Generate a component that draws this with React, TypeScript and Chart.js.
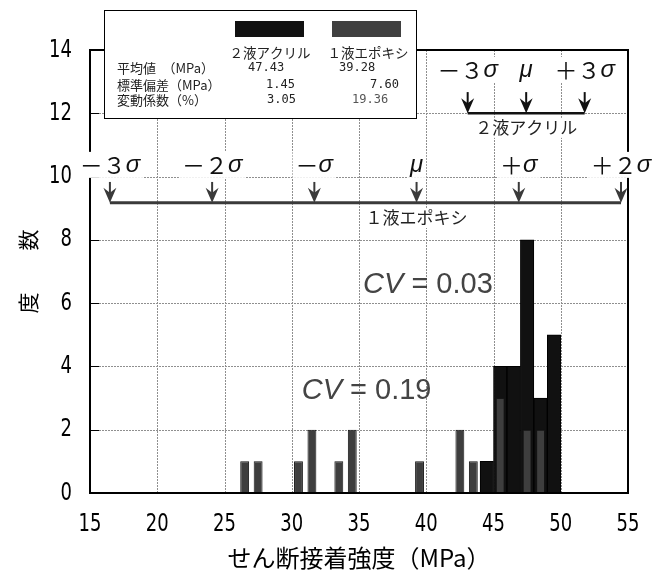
import React, { useEffect, useRef } from "react";
import { Chart, registerables } from "chart.js";

Chart.register(...registerables);

// ---- data ----
const acrylicBins = [44.5, 45.5, 46.5, 47.5, 48.5, 49.5];
const acrylicCounts = [1, 4, 4, 8, 3, 5];
const epoxyBins = [26.5, 27.5, 30.5, 31.5, 33.5, 34.5, 39.5, 42.5, 43.5, 45.5, 47.5, 48.5];
const epoxyCounts = [1, 1, 1, 2, 1, 2, 1, 2, 1, 3, 2, 2];

const seriesNames = ["２液アクリル", "１液エポキシ"];
const meanValues = ["47.43", "39.28"];
const sdValues = ["1.45", "7.60"];
const cvPercentValues = ["3.05", "19.36"];
const cvRatioLabels = ["0.03", "0.19"];
const statRowLabels = ["平均値　（MPa）", "標準偏差（MPa）", "変動係数（%）"];

const acrylicMean = 47.43;
const acrylicSd = 1.45;
const epoxyMean = 39.28;
const epoxySd = 7.6;
const acrylicSigmaMarks = [-3, 0, 3];
const epoxySigmaMarks = [-3, -2, -1, 0, 1, 2];

const xMin = 15, xMax = 55, xStep = 5;
const yMin = 0, yMax = 14, yStep = 2;

const xTitle = "せん断接着強度（MPa）";
const yTitle = "度　　数";

// ---- layout / style (not data) ----
const CJK = '"Noto Sans CJK JP", "Noto Sans CJK SC", sans-serif';
const NARROW = '"DejaVu Sans Condensed", "DejaVu Sans", sans-serif';
const LATIN = '"Liberation Sans", Arial, sans-serif';
const MONO = '"DejaVu Sans Mono", monospace';

const acrylicLevels = { label: 13.37, arrowTop: 12.67, line: 12.0, name: 11.54 };
const epoxyLevels = { label: 10.37, arrowTop: 9.83, line: 9.17, name: 8.69 };
const cvAnchors = [
  { x: 35.3, y: 6.56 },
  { x: 30.74, y: 3.22 },
];

const fw: Record<string, string> = { "1": "１", "2": "２", "3": "３" };

function sigmaParts(k: number) {
  const ital = `italic 24px ${LATIN}`;
  const norm = `23px ${CJK}`;
  if (k === 0) return [{ t: "μ", f: ital }];
  const sign = k < 0 ? "－" : "＋";
  const mag = Math.abs(k) === 1 ? "" : fw[String(Math.abs(k))];
  return [
    { t: sign + mag, f: norm },
    { t: "σ", f: ital },
  ];
}

function drawRich(ctx: CanvasRenderingContext2D, parts: { t: string; f: string }[], cx: number, cy: number, color: string, bgH: number) {
  let w = 0;
  const ws = parts.map((p) => {
    ctx.font = p.f;
    const m = ctx.measureText(p.t).width;
    w += m;
    return m;
  });
  let sx = cx - w / 2;
  if (bgH > 0) {
    ctx.fillStyle = "#fff";
    ctx.fillRect(sx - 3, cy - bgH / 2, w + 6, bgH);
  }
  ctx.textBaseline = "middle";
  ctx.textAlign = "left";
  ctx.fillStyle = color;
  parts.forEach((p, i) => {
    ctx.font = p.f;
    ctx.fillText(p.t, sx, cy);
    sx += ws[i];
  });
}

function drawDist(
  chart: any,
  mean: number,
  sd: number,
  ks: number[],
  lv: { label: number; arrowTop: number; line: number; name: number },
  color: string,
  lineW: number,
  name: string
) {
  const { ctx, scales } = chart;
  const x = scales.x, y = scales.y;
  const xs = ks.map((k) => x.getPixelForValue(mean + k * sd));
  const yl = y.getPixelForValue(lv.line);
  const yt = y.getPixelForValue(lv.arrowTop);
  ctx.save();
  ctx.strokeStyle = color;
  ctx.fillStyle = color;
  ctx.lineWidth = lineW;
  ctx.beginPath();
  ctx.moveTo(xs[0], yl);
  ctx.lineTo(xs[xs.length - 1], yl);
  ctx.stroke();
  xs.forEach((px) => {
    ctx.lineWidth = 2;
    ctx.beginPath();
    ctx.moveTo(px, yt);
    ctx.lineTo(px, yl - 8);
    ctx.stroke();
    ctx.beginPath();
    ctx.moveTo(px, yl);
    ctx.lineTo(px - 6.5, yl - 15);
    ctx.lineTo(px, yl - 10);
    ctx.lineTo(px + 6.5, yl - 15);
    ctx.closePath();
    ctx.fill();
  });
  const ly = y.getPixelForValue(lv.label);
  ks.forEach((k, i) => drawRich(ctx, sigmaParts(k), xs[i], ly, "#111", 26));
  const nx = x.getPixelForValue(mean);
  const ny = y.getPixelForValue(lv.name);
  drawRich(ctx, [{ t: name, f: `17px ${CJK}` }], nx, ny, "#222", 20);
  ctx.restore();
}

const gridAndTicks = {
  id: "gridAndTicks",
  beforeDatasetsDraw(chart: any) {
    const { ctx, chartArea: ca, scales } = chart;
    const x = scales.x, y = scales.y;
    ctx.save();
    ctx.strokeStyle = "#8f8f8f";
    ctx.lineWidth = 1;
    ctx.setLineDash([2, 1]);
    ctx.beginPath();
    x.ticks.forEach((t: any) => {
      const px = Math.round(x.getPixelForValue(t.value)) + 0.5;
      ctx.moveTo(px, ca.top);
      ctx.lineTo(px, ca.bottom);
    });
    y.ticks.forEach((t: any) => {
      const py = Math.round(y.getPixelForValue(t.value)) + 0.5;
      ctx.moveTo(ca.left, py);
      ctx.lineTo(ca.right, py);
    });
    ctx.stroke();
    ctx.setLineDash([]);
    ctx.strokeStyle = "#000";
    ctx.lineWidth = 2;
    ctx.beginPath();
    ctx.moveTo(ca.left, ca.top);
    ctx.lineTo(ca.left, ca.bottom);
    ctx.lineTo(ca.right, ca.bottom);
    ctx.stroke();
    // tick labels (condensed look)
    ctx.fillStyle = "#000";
    ctx.font = `25px ${NARROW}`;
    ctx.textBaseline = "middle";
    x.ticks.forEach((t: any) => {
      const px = x.getPixelForValue(t.value);
      ctx.save();
      ctx.translate(px, ca.bottom + 31);
      ctx.scale(0.8, 1);
      ctx.textAlign = "center";
      ctx.fillText(String(t.value), 0, 0);
      ctx.restore();
    });
    y.ticks.forEach((t: any) => {
      const py = y.getPixelForValue(t.value);
      ctx.save();
      ctx.translate(ca.left - 18, py);
      ctx.scale(0.8, 1);
      ctx.textAlign = "right";
      ctx.fillText(String(t.value), 0, 0);
      ctx.restore();
    });
    ctx.restore();
  },
};

const overlay = {
  id: "overlay",
  afterDraw(chart: any) {
    const { ctx, chartArea: ca, scales } = chart;
    const x = scales.x, y = scales.y;
    ctx.save();
    ctx.strokeStyle = "#000";
    ctx.lineWidth = 2;
    ctx.beginPath();
    ctx.moveTo(ca.left, ca.bottom);
    ctx.lineTo(ca.left, ca.top);
    ctx.lineTo(ca.right, ca.top);
    ctx.lineTo(ca.right, ca.bottom);
    ctx.lineTo(ca.left, ca.bottom);
    ctx.closePath();
    ctx.stroke();
    // inward y ticks
    ctx.lineWidth = 1;
    ctx.beginPath();
    for (let v = yMin + yStep; v <= yMax; v += yStep) {
      const py = Math.round(y.getPixelForValue(v)) + 0.5;
      ctx.moveTo(ca.left, py);
      ctx.lineTo(ca.left + 9, py);
    }
    ctx.stroke();

    // CV texts
    cvAnchors.forEach((a, i) => {
      const px = x.getPixelForValue(a.x);
      const py = y.getPixelForValue(a.y);
      ctx.textBaseline = "middle";
      ctx.textAlign = "left";
      ctx.fillStyle = "#444";
      ctx.font = `italic 29px ${LATIN}`;
      ctx.fillText("CV", px, py);
      const w = ctx.measureText("CV").width;
      ctx.font = `29px ${LATIN}`;
      ctx.fillText(" = " + cvRatioLabels[i], px + w, py);
    });
    ctx.restore();

    drawDist(chart, epoxyMean, epoxySd, epoxySigmaMarks, epoxyLevels, "#3a3a3a", 3, seriesNames[1]);
    drawDist(chart, acrylicMean, acrylicSd, acrylicSigmaMarks, acrylicLevels, "#111", 2.5, seriesNames[0]);

    // stats box
    ctx.save();
    const bx = ca.left + 14, by = ca.top - 40, bw = 312, bh = 108;
    ctx.fillStyle = "#fff";
    ctx.fillRect(bx, by, bw, bh);
    ctx.strokeStyle = "#000";
    ctx.lineWidth = 1;
    ctx.strokeRect(bx + 0.5, by + 0.5, bw, bh);
    const swatchX = [131, 228];
    const swatchColors = ["#111111", "#404040"];
    swatchX.forEach((sx, i) => {
      ctx.fillStyle = swatchColors[i];
      ctx.fillRect(bx + sx, by + 11, 69, 16);
    });
    const headCx = [166, 264];
    ctx.textBaseline = "middle";
    ctx.textAlign = "center";
    ctx.fillStyle = "#222";
    ctx.font = `13.5px ${CJK}`;
    headCx.forEach((cx, i) => ctx.fillText(seriesNames[i], bx + cx, by + 43));
    const rowY = [58, 75, 90];
    ctx.textAlign = "left";
    ctx.font = `13px ${CJK}`;
    statRowLabels.forEach((t, i) => ctx.fillText(t, bx + 13, by + rowY[i]));
    const cols = [meanValues, sdValues, cvPercentValues];
    const colX = [
      [144, 235],
      [162, 266],
      [163, 248],
    ];
    ctx.font = `12px ${MONO}`;
    cols.forEach((vals, r) => {
      vals.forEach((v, c) => {
        ctx.fillStyle = r === 2 && c === 1 ? "#555" : "#222";
        ctx.fillText(v, bx + colX[r][c], by + rowY[r]);
      });
    });
    ctx.restore();
  },
};

export default function App() {
  const ref = useRef<HTMLCanvasElement>(null);
  useEffect(() => {
    const chart = new Chart(ref.current as HTMLCanvasElement, {
      type: "bar",
      data: {
        datasets: [
          {
            label: seriesNames[1],
            data: epoxyBins.map((b, i) => ({ x: b, y: epoxyCounts[i] })),
            backgroundColor: "#3e3e3e",
            borderColor: "#151515",
            borderWidth: 1,
            barPercentage: 0.66,
            categoryPercentage: 1,
            grouped: false,
            order: 1,
          } as any,
          {
            label: seriesNames[0],
            data: acrylicBins.map((b, i) => ({ x: b, y: acrylicCounts[i] })),
            backgroundColor: "#111111",
            borderColor: "#000",
            borderWidth: 1,
            barPercentage: 1,
            categoryPercentage: 1,
            grouped: false,
            order: 2,
          } as any,
        ],
      },
      options: {
        animation: false,
        responsive: false,
        layout: { padding: { left: 0, right: 31, top: 42, bottom: 0 } },
        plugins: { legend: { display: false }, tooltip: { enabled: false } },
        scales: {
          x: {
            type: "linear",
            min: xMin,
            max: xMax,
            offset: false,
            ticks: { stepSize: xStep, display: false },
            grid: { display: false },
            border: { display: false },
            title: { display: true, text: xTitle, color: "#000", font: { family: CJK, size: 24, lineHeight: 1.2 }, padding: { top: 0, bottom: -2 } },
            afterFit: (s: any) => {
              s.height = 77;
            },
          },
          y: {
            type: "linear",
            min: yMin,
            max: yMax,
            ticks: { stepSize: yStep, display: false },
            grid: { display: false },
            border: { display: false },
            title: { display: true, text: yTitle, color: "#000", font: { family: CJK, size: 21 }, padding: { top: 7, bottom: 0 } },
            afterFit: (s: any) => {
              s.width = 82;
            },
          },
        },
      } as any,
      plugins: [gridAndTicks, overlay],
    });
    return () => chart.destroy();
  }, []);
  return (
    <div style={{ width: 651, height: 562 }}>
      <canvas ref={ref} width={651} height={562} style={{ display: "block" }} />
    </div>
  );
}
